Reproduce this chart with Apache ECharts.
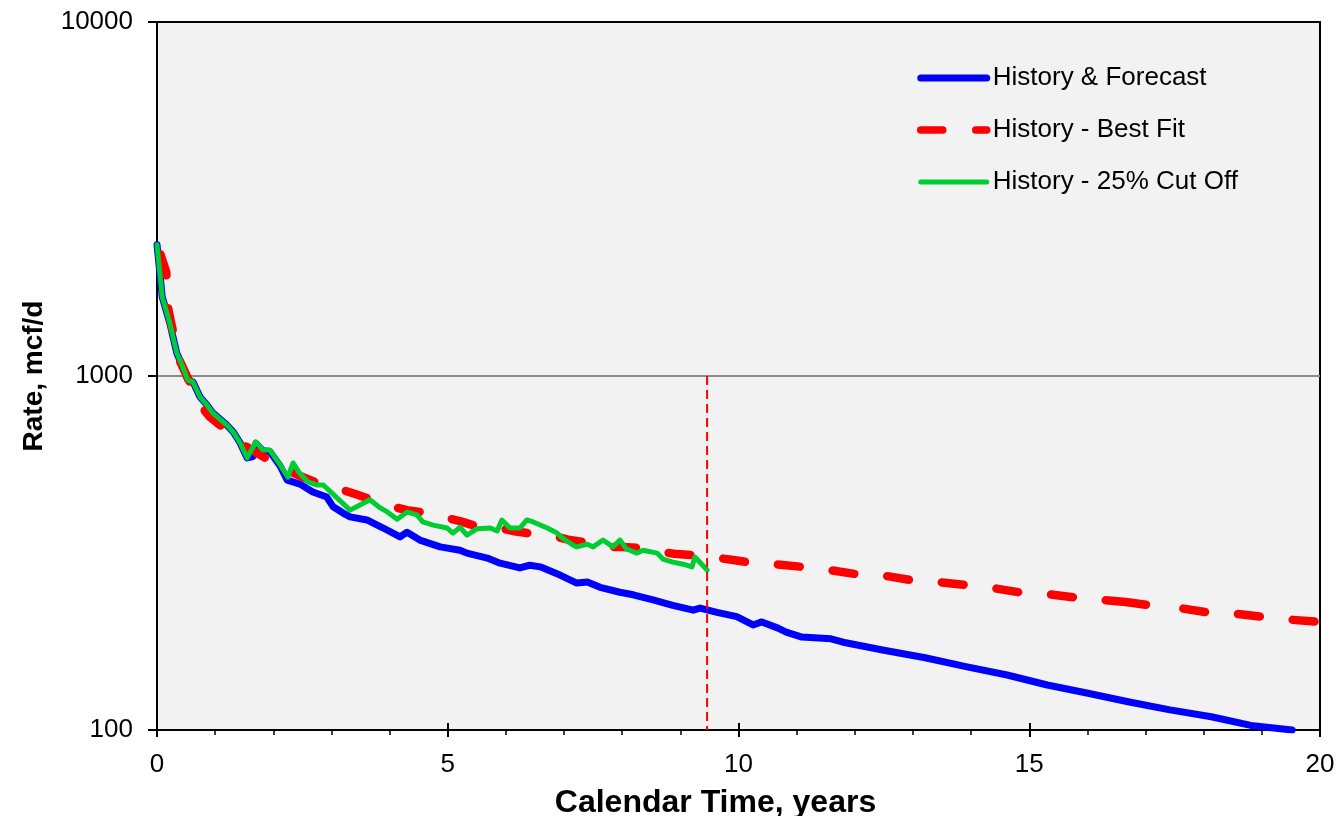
<!DOCTYPE html>
<html>
<head>
<meta charset="utf-8">
<script src="https://cdn.jsdelivr.net/npm/echarts@6/dist/echarts.min.js"></script>
<style>
  html, body { margin: 0; padding: 0; background: #ffffff; }
  #chart { width: 1339px; height: 816px; }
</style>
</head>
<body>
<div id="chart"></div>
<script>
// Gas rate decline: history & forecast, best-fit curve and 25% cut-off curve (years, mcf/d)
const forecastYears = [0, 0.09, 0.22, 0.34, 0.43, 0.53, 0.62, 0.74, 0.86, 0.96, 1.2, 1.31, 1.43, 1.55, 1.65, 1.7, 1.82, 1.94, 2.12,
  2.24, 2.46, 2.68, 2.92, 3.03, 3.2, 3.32, 3.61, 3.89, 4.18, 4.3, 4.52, 4.87, 5.21, 5.33, 5.68, 5.9, 6.24, 6.41, 6.59,
  6.93, 7.22, 7.4, 7.62, 7.96, 8.19, 8.53, 8.87, 9.22, 9.34, 9.63, 9.97, 10.25, 10.4, 10.68, 10.82, 11.09, 11.59, 11.8,
  12.5, 13.21, 13.91, 14.62, 15.31, 16.01, 16.72, 17.42, 18.13, 18.81, 19.52];
const forecastRate = [2350, 1672, 1411, 1161, 1074, 974, 962, 872, 828, 786, 727, 695, 647, 587, 592, 645, 615, 612, 556,
  508, 495, 470, 455, 427, 410, 400, 392, 372, 351, 362, 344, 329, 322, 316, 306, 296, 287, 292, 289,
  274, 260, 262, 253, 245, 241, 233, 225, 218, 221, 215, 209, 198, 202, 194, 189, 183, 181, 177,
  168, 160, 151, 143, 134, 127, 120, 114, 109, 103, 100];

const bestFitYears = [0, 0.16, 0.17, 0.24, 0.31, 0.36, 0.45, 0.52, 0.6, 0.71, 0.77, 0.91, 1.02, 1.12, 1.26, 1.43, 1.63, 1.86,
  2.03, 2.24, 2.46, 2.72, 2.94, 3.18, 3.41, 3.61, 3.84, 4.06, 4.3, 4.52, 4.75, 4.99, 5.21, 5.43, 5.68, 5.9, 6.12, 6.36,
  6.59, 6.88, 7.1, 7.33, 7.57, 7.79, 8.01, 8.25, 8.48, 8.7, 8.94, 9.2, 9.44, 9.67, 9.91, 10.15, 10.61, 11.09, 11.56,
  12.0, 12.5, 12.97, 13.41, 13.91, 14.36, 14.82, 15.31, 15.77, 16.25, 16.66, 17.09, 17.59, 18.06, 18.54, 19.0, 19.48,
  19.97, 20];
const bestFitRate = [2360, 1967, 1618, 1421, 1264, 1132, 1053, 994, 937, 884, 818, 766, 741, 718, 690, 647, 618, 587,
  568, 543, 522, 502, 486, 477, 464, 452, 438, 427, 418, 413, 403, 397, 389, 379, 374, 372, 365, 360,
  355, 351, 344, 340, 333, 329, 329, 327, 322, 318, 314, 312, 311, 306, 302, 298, 294, 289, 283,
  276, 273, 265, 262, 257, 252, 245, 242, 237, 233, 230, 225, 221, 215, 213, 209, 205,
  202, 201];

const cutOffYears = [0, 0.09, 0.22, 0.34, 0.43, 0.53, 0.62, 0.74, 0.86, 0.96, 1.2, 1.31, 1.43, 1.55, 1.7, 1.82, 1.94, 2.12,
  2.25, 2.34, 2.46, 2.6, 2.75, 2.86, 3.1, 3.32, 3.49, 3.66, 3.84, 3.96, 4.13, 4.3, 4.47, 4.57, 4.75, 4.99, 5.09, 5.21,
  5.33, 5.5, 5.73, 5.85, 5.93, 6.07, 6.24, 6.36, 6.47, 6.71, 6.88, 6.98, 7.15, 7.22, 7.4, 7.5, 7.67, 7.84, 7.96, 8.07,
  8.25, 8.36, 8.6, 8.7, 8.87, 9.05, 9.2, 9.25, 9.46];
const cutOffRate = [2350, 1672, 1411, 1161, 1074, 974, 962, 872, 828, 786, 727, 695, 647, 587, 651, 618, 618, 560,
  518, 568, 529, 502, 492, 492, 452, 418, 432, 447, 424, 413, 394, 413, 405, 387, 379, 372, 360, 374,
  355, 370, 372, 365, 392, 372, 372, 392, 387, 372, 360, 348, 333, 329, 335, 329, 344, 329, 344, 325,
  316, 322, 316, 304, 298, 294, 289, 308, 283];

// vertical marker at the end of the history period
const cutoffMarkerYears = [9.46, 9.46];
const cutoffMarkerRate = [1000, 100];

const xTickValues = [0, 5, 10, 15, 20];
const yTickValues = [100, 1000, 10000];

const FONT = '"Liberation Sans", Arial, Helvetica, sans-serif';
const zip = (xs, ys) => xs.map((x, i) => [x, ys[i]]);

// best-fit dash style
const FIT_WIDTH = 8.5;
const FIT_DASH = 22, FIT_GAP = 33;
const DASH_ANCHOR_YEAR = 9.665;   // a dash begins here
const LONG_DASH_YEAR = 16.25;     // the dash pattern has one long dash here
const LONG_DASH = 40.5, LONG_GAP = 37.5;

const chart = echarts.init(document.getElementById('chart'), null, { renderer: 'canvas' });

const option = {
  animation: false,
  backgroundColor: '#ffffff',
  grid: {
    left: 157, right: 19, top: 22, bottom: 86,
    outerBoundsMode: 'none', containLabel: false,
    show: true, backgroundColor: '#f2f2f2', borderColor: '#000000', borderWidth: 2
  },
  legend: {
    show: true,
    orient: 'vertical',
    left: 917, top: 63, padding: 0,
    itemWidth: 66, itemHeight: 14, itemGap: 22,
    itemStyle: { opacity: 0 },
    textStyle: { fontFamily: FONT, fontSize: 26, color: '#000000', lineHeight: 30, padding: [0, 0, 0, 1] },
    data: [
      { name: 'History & Forecast', lineStyle: { width: 7, type: 'solid', cap: 'round' } },
      { name: 'History - Best Fit', lineStyle: { width: 7.5, type: [FIT_DASH, FIT_GAP], dashOffset: 0, cap: 'round' } },
      { name: 'History - 25% Cut Off', lineStyle: { width: 5, type: 'solid', cap: 'round' } }
    ]
  },
  xAxis: [
    {
      type: 'value', min: xTickValues[0], max: xTickValues[xTickValues.length - 1], interval: 5, position: 'bottom',
      name: 'Calendar Time, years', nameLocation: 'middle', nameGap: 57,
      nameTextStyle: { fontFamily: FONT, fontSize: 32, fontWeight: 'bold', color: '#000000', padding: [0, 46, 0, 0] },
      axisLine: { show: true, onZero: false, lineStyle: { color: '#000000', width: 2 } },
      axisTick: { show: true, inside: false, length: 7, lineStyle: { color: '#000000', width: 2 } },
      minorTick: { show: true, splitNumber: 5, length: 5, lineStyle: { color: '#000000', width: 1.5 } },
      axisLabel: { fontFamily: FONT, fontSize: 26, color: '#000000', margin: 22 },
      splitLine: { show: false }
    },
    {
      type: 'value', min: xTickValues[0], max: xTickValues[xTickValues.length - 1], interval: 5, position: 'bottom',
      axisLine: { show: false },
      axisTick: { show: true, inside: true, length: 7, lineStyle: { color: '#000000', width: 2 } },
      axisLabel: { show: false },
      splitLine: { show: false }
    }
  ],
  yAxis: {
    type: 'log', logBase: 10, min: yTickValues[0], max: yTickValues[yTickValues.length - 1],
    name: 'Rate, mcf/d', nameLocation: 'middle', nameGap: 109, nameRotate: 90,
    nameTextStyle: { fontFamily: FONT, fontSize: 28, fontWeight: 'bold', color: '#000000' },
    axisLine: { show: true, onZero: false, lineStyle: { color: '#000000', width: 2 } },
    axisTick: { show: true, inside: false, length: 9, lineStyle: { color: '#000000', width: 2 } },
    minorTick: { show: false },
    axisLabel: {
      fontFamily: FONT, fontSize: 26, color: '#000000', margin: 24,
      formatter: v => String(Math.round(v))
    },
    splitLine: { show: true, lineStyle: { color: ['#000000', '#8a8a8a', '#000000'], width: 2 } }
  },
  series: [
    {
      id: 'forecast', name: 'History & Forecast', type: 'line', xAxisIndex: 0,
      data: zip(forecastYears, forecastRate),
      symbol: 'none', smooth: false, z: 2,
      itemStyle: { color: '#0000ff' },
      lineStyle: { color: '#0000ff', width: 7, cap: 'round', join: 'round' }
    },
    {
      id: 'bestFit', name: 'History - Best Fit', type: 'line', xAxisIndex: 0,
      data: zip(bestFitYears, bestFitRate),
      symbol: 'none', smooth: false, z: 3,
      itemStyle: { color: '#ff0000' },
      lineStyle: { color: '#ff0000', width: FIT_WIDTH, type: [FIT_DASH, FIT_GAP], dashOffset: 0, cap: 'round', join: 'round' }
    },
    {
      id: 'cutOff', name: 'History - 25% Cut Off', type: 'line', xAxisIndex: 0,
      data: zip(cutOffYears, cutOffRate),
      symbol: 'none', smooth: false, z: 4,
      itemStyle: { color: '#00cc33' },
      lineStyle: { color: '#00cc33', width: 5, cap: 'round', join: 'round' }
    },
    {
      id: 'historyEnd', name: 'End of history', type: 'line', xAxisIndex: 0,
      data: zip(cutoffMarkerYears, cutoffMarkerRate),
      symbol: 'none', silent: true, z: 5,
      itemStyle: { color: '#ff0000' },
      lineStyle: { color: '#ff0000', width: 2, type: [9, 5] }
    }
  ]
};

chart.setOption(option);

// Phase the best-fit dashes along the drawn curve: cumulative screen length up to a given year.
function fitLengthAt(year) {
  const toPx = (i) => chart.convertToPixel({ xAxisIndex: 0, yAxisIndex: 0 }, [bestFitYears[i], bestFitRate[i]]);
  let total = 0;
  let prev = toPx(0);
  for (let i = 1; i < bestFitYears.length; i++) {
    const cur = toPx(i);
    const seg = Math.hypot(cur[0] - prev[0], cur[1] - prev[1]);
    if (bestFitYears[i] >= year) {
      const f = (year - bestFitYears[i - 1]) / (bestFitYears[i] - bestFitYears[i - 1]);
      return total + f * seg;
    }
    total += seg;
    prev = cur;
  }
  return total;
}

const period = FIT_DASH + FIT_GAP;
const cap = FIT_WIDTH / 2;
const anchor = fitLengthAt(DASH_ANCHOR_YEAR) + cap;
const longStart = fitLengthAt(LONG_DASH_YEAR) + cap;
const phase = ((anchor % period) + period) % period;
const before = Math.round((anchor - phase) / period);
const between = Math.max(0, Math.round((longStart - anchor) / period));
const dashes = [FIT_DASH, FIT_GAP];                 // partial pair swallowed by the offset
for (let k = 0; k < before + between; k++) dashes.push(FIT_DASH, FIT_GAP);
dashes.push(LONG_DASH, LONG_GAP);
for (let k = 0; k < 30; k++) dashes.push(FIT_DASH, FIT_GAP);

chart.setOption({
  series: [{ id: 'bestFit', lineStyle: { type: dashes, dashOffset: period - phase } }]
});
</script>
</body>
</html>
